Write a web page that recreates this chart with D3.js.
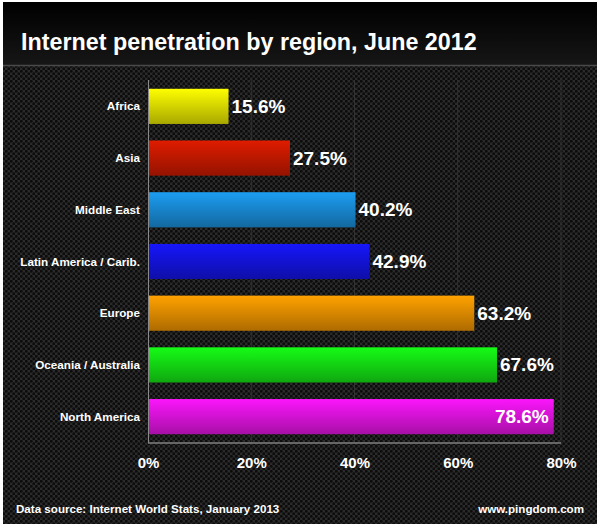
<!DOCTYPE html>
<html>
<head>
<meta charset="utf-8">
<script src="https://cdn.jsdelivr.net/npm/d3@7"></script>
<style>
  body { margin: 0; background: #fff; }
  svg { display: block; }
</style>
</head>
<body>
<script>
const width = 600;
const height = 527;

// data
const regions = ["Africa", "Asia", "Middle East", "Latin America / Carib.", "Europe", "Oceania / Australia", "North America"];
const penetration = [15.6, 27.5, 40.2, 42.9, 63.2, 67.6, 78.6];
const barColors = ["#e8e800", "#cc1a00", "#1a90dc", "#1414e6", "#f09400", "#14e614", "#e614e6"];
const tickValues = [0, 20, 40, 60, 80];

const margin = {top: 80, left: 148, right: 39, bottom: 84};
const plotW = width - margin.left - margin.right;
const plotH = height - margin.top - margin.bottom;
const font = "Liberation Sans, Arial, sans-serif";

const svg = d3.select("body").append("svg")
    .attr("width", width)
    .attr("height", height);

const defs = svg.append("defs");

// carbon fibre-ish background: dark dots on grey
const pat = defs.append("pattern")
    .attr("id", "carbon")
    .attr("width", 5).attr("height", 5)
    .attr("patternUnits", "userSpaceOnUse");
pat.append("rect").attr("width", 5).attr("height", 5).attr("fill", "#2b2b2b");
pat.append("circle").attr("cx", 1.25).attr("cy", 1.25).attr("r", 1.45).attr("fill", "#0c0c0c");
pat.append("circle").attr("cx", 3.75).attr("cy", 3.75).attr("r", 1.45).attr("fill", "#0c0c0c");

const titleGrad = defs.append("linearGradient")
    .attr("id", "titleGrad").attr("x1", 0).attr("y1", 0).attr("x2", 0).attr("y2", 1);
titleGrad.append("stop").attr("offset", "0%").attr("stop-color", "#000");
titleGrad.append("stop").attr("offset", "100%").attr("stop-color", "#161616");

barColors.forEach(function(c, i) {
  const g = defs.append("linearGradient")
      .attr("id", "bar" + i).attr("x1", 0).attr("y1", 0).attr("x2", 0).attr("y2", 1);
  g.append("stop").attr("offset", "0%").attr("stop-color", d3.color(c).brighter(0.25));
  g.append("stop").attr("offset", "100%").attr("stop-color", d3.color(c).darker(0.9));
});

// frame + background
svg.append("rect").attr("width", width).attr("height", height).attr("fill", "#fff");
svg.append("rect").attr("x", 3).attr("y", 2).attr("width", width - 6).attr("height", height - 5)
    .attr("fill", "url(#carbon)");
svg.append("rect").attr("x", 3).attr("y", 2).attr("width", width - 6).attr("height", 63)
    .attr("fill", "url(#titleGrad)");
svg.append("line").attr("x1", 3).attr("x2", width - 3).attr("y1", 65.5).attr("y2", 65.5)
    .attr("stroke", "#4a4a4a").attr("stroke-width", 1.5);

svg.append("text")
    .attr("x", 21).attr("y", 50)
    .attr("fill", "#fff")
    .attr("font-family", font)
    .attr("font-weight", "bold")
    .attr("font-size", "23.3px")
    .text("Internet penetration by region, June 2012");

const x = d3.scaleLinear().domain([0, 80]).range([0, plotW]);
const y = d3.scaleBand().domain(regions).range([0, plotH]).paddingInner(0.32).paddingOuter(0.17);

const g = svg.append("g").attr("transform", "translate(" + margin.left + "," + margin.top + ")");

// faint grid
g.selectAll(".grid").data(tickValues.slice(1)).enter().append("line")
    .attr("x1", d => x(d)).attr("x2", d => x(d))
    .attr("y1", 0).attr("y2", plotH)
    .attr("stroke", "#333").attr("stroke-width", 1);

// axis lines
g.append("line").attr("x1", 0.5).attr("x2", 0.5).attr("y1", 0).attr("y2", plotH)
    .attr("stroke", "#8a8a8a").attr("stroke-width", 1);
g.append("line").attr("x1", 0).attr("x2", plotW).attr("y1", plotH).attr("y2", plotH)
    .attr("stroke", "#808080").attr("stroke-width", 1.5);

// bars
const data = regions.map((r, i) => ({region: r, value: penetration[i], idx: i}));

g.selectAll(".bar").data(data).enter().append("rect")
    .attr("x", 1)
    .attr("y", d => y(d.region))
    .attr("width", d => x(d.value) - 1)
    .attr("height", y.bandwidth())
    .attr("fill", d => "url(#bar" + d.idx + ")");

// value labels
g.selectAll(".val").data(data).enter().append("text")
    .attr("x", d => d.value > 75 ? x(d.value) - 5 : x(d.value) + 3)
    .attr("y", d => y(d.region) + y.bandwidth() / 2 + 6.5)
    .attr("text-anchor", d => d.value > 75 ? "end" : "start")
    .attr("fill", "#fff")
    .attr("font-family", font)
    .attr("font-weight", "bold")
    .attr("font-size", "19px")
    .text(d => d.value.toFixed(1) + "%");

// category labels
g.selectAll(".cat").data(data).enter().append("text")
    .attr("x", -8)
    .attr("y", d => y(d.region) + y.bandwidth() / 2 + 4)
    .attr("text-anchor", "end")
    .attr("fill", "#fff")
    .attr("font-family", font)
    .attr("font-weight", "bold")
    .attr("font-size", "11.7px")
    .text(d => d.region);

// x axis tick labels
const xAxis = g.append("g")
    .attr("transform", "translate(0," + plotH + ")")
    .call(d3.axisBottom(x).tickValues(tickValues).tickSize(0).tickPadding(14).tickFormat(d => d + "%"));
xAxis.select(".domain").remove();
xAxis.selectAll("text")
    .attr("fill", "#fff")
    .attr("font-family", font)
    .attr("font-weight", "bold")
    .attr("font-size", "15px");

// footer
svg.append("text")
    .attr("x", 16).attr("y", 513)
    .attr("fill", "#fff")
    .attr("font-family", font)
    .attr("font-weight", "bold")
    .attr("font-size", "11.6px")
    .text("Data source: Internet World Stats, January 2013");

svg.append("text")
    .attr("x", 584).attr("y", 513)
    .attr("text-anchor", "end")
    .attr("fill", "#fff")
    .attr("font-family", font)
    .attr("font-weight", "bold")
    .attr("font-size", "11.6px")
    .text("www.pingdom.com");
</script>
</body>
</html>
